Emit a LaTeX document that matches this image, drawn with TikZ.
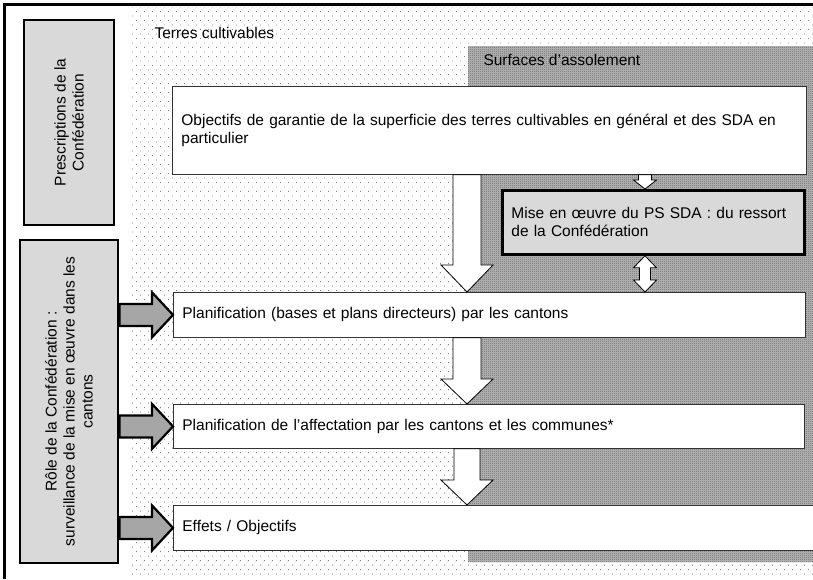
\documentclass[tikz,border=0pt]{standalone}
\usepackage{fontspec}
\setmainfont{Liberation Sans}
\usetikzlibrary{calc,patterns}

\pgfdeclarepatternformonly{sparsedots}{\pgfqpoint{-1pt}{-1pt}}{\pgfqpoint{9pt}{10pt}}{\pgfqpoint{8pt}{9pt}}{%
  \pgfpathrectangle{\pgfqpoint{0pt}{0pt}}{\pgfqpoint{0.8pt}{0.8pt}}%
  \pgfpathrectangle{\pgfqpoint{4pt}{4.5pt}}{\pgfqpoint{0.8pt}{0.8pt}}%
  \pgfusepath{fill}}
\pgfdeclarepatternformonly{finecheck}{\pgfqpoint{0pt}{0pt}}{\pgfqpoint{2pt}{2pt}}{\pgfqpoint{2pt}{2pt}}{%
  \pgfpathrectangle{\pgfqpoint{0pt}{0pt}}{\pgfqpoint{1pt}{1pt}}%
  \pgfpathrectangle{\pgfqpoint{1pt}{1pt}}{\pgfqpoint{1pt}{1pt}}%
  \pgfusepath{fill}}

\definecolor{boxgray}{HTML}{D9D9D9}
\definecolor{arrowgray}{HTML}{A6A6A6}

\begin{document}
\begin{tikzpicture}[x=1pt,y=-1pt,
   font=\fontsize{15.5}{18}\selectfont,
   panel/.style={draw=black!80,fill=white,line width=0.8pt,anchor=north west,align=left,inner xsep=9pt},
   rolebox/.style={draw,fill=boxgray,line width=2.8pt,rotate=90,align=center},
   downblock/.style n args={3}{draw,fill=white,line width=0.8pt,to path={let \p1=(\tikztostart),\p2=(\tikztotarget) in
      ({\x2-#1},\y1) -- ({\x2-#1},{\y2+#3}) -- ({\x2-#2},{\y2+#3}) -- (\p2) -- ({\x2+#2},{\y2+#3}) -- ({\x2+#1},{\y2+#3}) -- ({\x2+#1},\y1) -- cycle}},
   dblblock/.style n args={3}{draw,fill=white,line width=0.8pt,to path={let \p1=(\tikztostart),\p2=(\tikztotarget) in
      (\p1) -- ({\x1+#2},{\y1-#3}) -- ({\x1+#1},{\y1-#3}) -- ({\x1+#1},{\y2+#3}) -- ({\x1+#2},{\y2+#3}) -- (\p2)
      -- ({\x1-#2},{\y2+#3}) -- ({\x1-#1},{\y2+#3}) -- ({\x1-#1},{\y1-#3}) -- ({\x1-#2},{\y1-#3}) -- cycle}},
   rightblock/.style n args={3}{draw,fill=arrowgray,line width=2.2pt,to path={let \p1=(\tikztostart),\p2=(\tikztotarget) in
      (\x1,{\y2+#1}) -- ({\x2-#3},{\y2+#1}) -- ({\x2-#3},{\y2+#2}) -- (\p2) -- ({\x2-#3},{\y2-#2}) -- ({\x2-#3},{\y2-#1}) -- (\x1,{\y2-#1}) -- cycle}}]
\useasboundingbox (0,0) rectangle (813,579);

% zones
\fill[pattern=sparsedots,pattern color=black!50] (130,7) rectangle (813,575);
\fill[black!28] (468,46) rectangle (813,562);
\fill[pattern=finecheck,pattern color=black!60] (468,46) rectangle (813,562);
\draw[line width=3pt] (4,579) -- (4,4) -- (813,4);
\node[anchor=west] (terres) at (151,33) {Terres cultivables};
\node[anchor=west] (sda) at (480,60) {Surfaces d’assolement};

% left column
\node[rolebox,minimum width=205pt,minimum height=90pt] (presc) at (69,122.5) {Prescriptions de la\\Confédération};
\node[rolebox,minimum width=323pt,minimum height=98pt] (role) at (69,401.5) {Rôle de la Confédération :\\surveillance de la mise en œuvre dans les\\cantons};

% boxes
\node[panel,text width=616pt,minimum height=88pt] (obj) at (172,86) {Objectifs de garantie de la superficie des terres cultivables en général et des SDA en\\particulier};
\node[panel,draw=black,fill=boxgray,line width=2.8pt,text width=284pt,minimum height=64pt] (mise) at (501,189) {Mise en œuvre du PS SDA : du ressort\\de la Confédération};
\node[panel,text width=614pt,minimum height=45pt] (plan1) at (173,292) {Planification (bases et plans directeurs) par les cantons};
\node[panel,text width=613pt,minimum height=44pt] (plan2) at (173,404) {Planification de l’affectation par les cantons et les communes*};
\node[panel,text width=624pt,minimum height=45pt] (eff) at (173,505) {Effets / Objectifs};

\coordinate (ax) at (467,0);
\coordinate (bx) at (645,0);

% arrows
\draw[downblock={14pt}{26pt}{27pt}] (obj.south -| ax) to (plan1.north -| ax);
\draw[downblock={14pt}{26pt}{25pt}] (plan1.south -| ax) to (plan2.north -| ax);
\draw[downblock={13pt}{26pt}{25pt}] (plan2.south -| ax) to (eff.north -| ax);
\draw[downblock={6.5pt}{11.5pt}{9pt}] (obj.south -| bx) to (mise.north -| bx);
\draw[dblblock={5.5pt}{11.5pt}{12pt}] (mise.south -| bx) to (plan1.north -| bx);
\draw[rightblock={11pt}{22.5pt}{21pt}] (role.south |- plan1.west) to (plan1.west);
\draw[rightblock={11pt}{22.5pt}{21pt}] (role.south |- plan2.west) to (plan2.west);
\draw[rightblock={11pt}{22.5pt}{21pt}] (role.south |- eff.west) to (eff.west);
\end{tikzpicture}
\end{document}
